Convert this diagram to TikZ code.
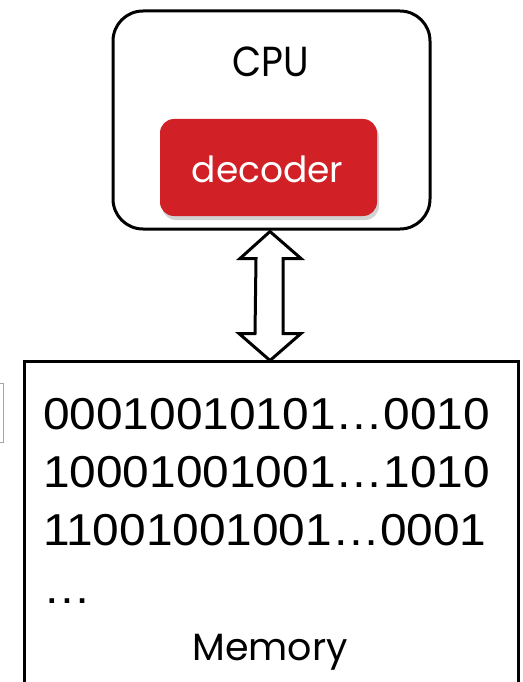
\documentclass[tikz,border=0pt]{standalone}
\usepackage{fontspec}
\setmainfont{Liberation Sans}
\newfontfamily\geofont{Poppins}
\usetikzlibrary{shadows,calc}
\definecolor{decred}{HTML}{D12026}
\newcommand{\bitrow}[1]{\scalebox{1.07}[1]{#1}}
\begin{document}
\begin{tikzpicture}[x=1pt,y=-1pt,
  box/.style={draw=black, line width=3pt, fill=white},
  bitline/.style={anchor=base west, inner sep=0pt, font=\fontsize{44.7}{50}\selectfont},
  geolabel/.style={anchor=base, inner sep=0pt, font=\geofont\fontsize{36}{40}\selectfont}]
\useasboundingbox (0,0) rectangle (522,682);
\clip (0,0) rectangle (522,682);
% small partial box on the left
\node[draw=gray!70, line width=1pt, minimum width=20pt, minimum height=59pt, inner sep=0pt] (side) at (-7,412.5) {};
% CPU
\node[box, rounded corners=30pt, minimum width=317pt, minimum height=218pt, inner sep=0pt] (cpu) at (271.5,120) {};
\node[geolabel, font=\geofont\fontsize{42}{46}\selectfont] (cputxt) at (270.5,77) {\scalebox{0.9}[1]{CPU}};
\node[fill=decred, rounded corners=14pt, minimum width=217pt, minimum height=97pt, inner sep=0pt,
  drop shadow={opacity=0.35, shadow xshift=2pt, shadow yshift=-4pt}] (dec) at (268.5,167.5) {};
\node[geolabel, text=white] (dectxt) at (267.5,182) {decoder};
% Memory
\node[box, minimum width=494pt, minimum height=359pt, inner sep=0pt] (mem) at (271,540.5) {};
\node[bitline] (l1) at (43,429) {\bitrow{00010010101…0010}};
\node[bitline] (l2) at (43,487) {\bitrow{10001001001…1010}};
\node[bitline] (l3) at (43,545) {\bitrow{11001001001…0001}};
\node[bitline] (l4) at (43,603) {\bitrow{…}};
\node[geolabel, font=\geofont\fontsize{38}{42}\selectfont] (memtxt) at (270,660) {Memory};
% double arrow between CPU and memory
\coordinate (at) at ($(cpu.south)+(-1.5,1)$);
\coordinate (ab) at ($(mem.north)+(-1,1)$);
\draw[line width=3pt, fill=white, line join=miter]
  (at) -- ++(31,27) -- ++(-18,0) -- ($(ab)+(13,-27)$) -- ++(18,0) -- (ab)
  -- ++(-31,-27) -- ++(16,0) -- ($(at)+(-14,27)$) -- ++(-16,0) -- cycle;
\end{tikzpicture}
\end{document}
